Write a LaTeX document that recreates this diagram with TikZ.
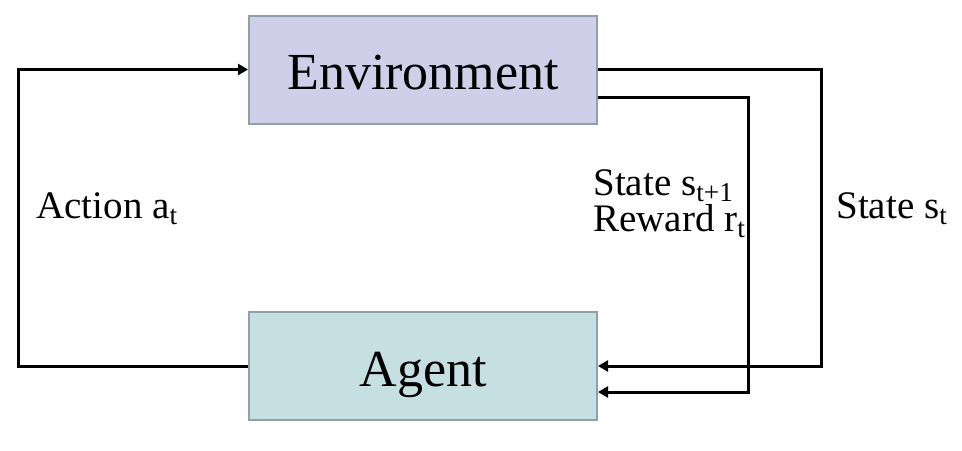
\documentclass[tikz,border=0pt]{standalone}
\usepackage{fontspec}
\setmainfont{Liberation Serif}
\usetikzlibrary{arrows.meta}

\definecolor{envfill}{RGB}{207,207,234}
\definecolor{agentfill}{RGB}{197,223,227}
\definecolor{boxline}{RGB}{143,160,166}

\tikzset{
    block/.style={draw=boxline, line width=1pt, minimum width=174pt, minimum height=54pt,
        font=\fontsize{26}{30}\selectfont, text height=23pt, text depth=3pt},
    flow/.style={line width=1.5pt, -{Triangle[length=5pt,width=5.5pt]}},
    lbl/.style={anchor=base west, inner sep=0pt, align=left,
        font=\fontsize{19.5}{15}\selectfont}
}

\begin{document}
\begin{tikzpicture}[x=0.5pt, y=-0.5pt]
    \useasboundingbox (0,0) rectangle (962,450);

    % Draw the two blocks
    \node[block, fill=envfill] (env) at (423,69.5) {Environment};
    \node[block, fill=agentfill] (agent) at (423,366) {Agent};

    % --- Action loop (left) ---
    \draw[flow] (agent.west) -- ++(-230,0) |- (env.west);

    % --- State / reward loops (right) ---
    % outer one: state s_t
    \draw[flow] (env.east) -- ++(223,0) |- (agent.east);
    % inner one: next state and reward
    \draw[flow] ([yshift=-14pt]env.east) -- ++(150,0) |- ([yshift=-13pt]agent.east);

    % Label the connectors
    \node[lbl] (act) at (36,218) {Action a\textsubscript{t}};
    \node[lbl] (nxt) at (593,231) {State s\textsubscript{t+1}\\Reward r\textsubscript{t}};
    \node[lbl] (st) at (836,218) {State s\textsubscript{t}};
\end{tikzpicture}
\end{document}
